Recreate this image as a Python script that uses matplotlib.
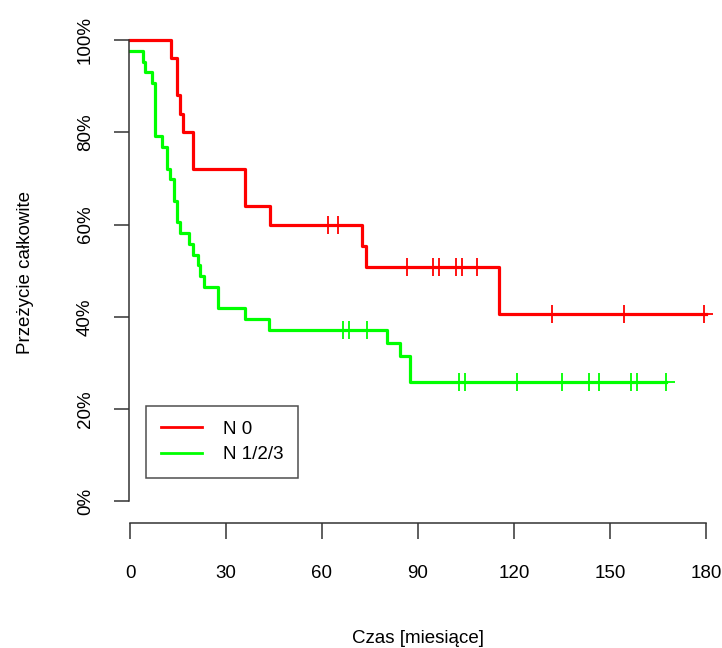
import matplotlib
matplotlib.use('Agg')
import matplotlib.pyplot as plt
from matplotlib.ticker import FuncFormatter

plt.rcParams['font.family'] = ['Liberation Sans', 'DejaVu Sans']

# krzywe Kaplana-Meiera
n0_time = [0, 12.7, 14.6, 15.6, 16.7, 19.8, 35.9, 43.75, 72.6, 73.6, 115.3, 180]
n0_surv = [1.0, 0.96, 0.88, 0.84, 0.80, 0.72, 0.64, 0.60, 0.554, 0.508, 0.406, 0.406]
n0_cens = [62, 65.1, 86.7, 94.6, 96.6, 101.8, 103.8, 108.5, 131.8, 154.5, 179.4]

n123_time = [0, 3.96, 4.7, 7.0, 7.9, 10.1, 11.5, 12.5, 13.75, 14.8, 15.6, 18.5,
             19.6, 21.1, 21.9, 23.2, 27.6, 35.9, 43.5, 80.2, 84.4, 87.5, 167.4]
n123_surv = [0.977, 0.953, 0.930, 0.907, 0.791, 0.767, 0.721, 0.698, 0.651, 0.605,
             0.581, 0.558, 0.535, 0.512, 0.488, 0.465, 0.419, 0.395, 0.372, 0.343,
             0.315, 0.258, 0.258]
n123_cens = [66.7, 68.5, 74, 102.8, 104.7, 120.8, 134.9, 143.5, 146.7, 156.5,
             158.5, 167.4]

x_ticks = [0, 30, 60, 90, 120, 150, 180]
y_ticks = [0, 0.2, 0.4, 0.6, 0.8, 1.0]


def surv_at(times, surv, t):
    s = surv[0]
    for ti, si in zip(times, surv):
        if ti <= t:
            s = si
    return s


fig = plt.figure(figsize=(7.22, 6.48), dpi=100)
ax = fig.add_axes([130 / 722, 125 / 648, 576 / 722, 501.5 / 648])

for times, surv, cens, col, lab in [(n0_time, n0_surv, n0_cens, '#ff0000', 'N 0'),
                                    (n123_time, n123_surv, n123_cens, '#00ff00', 'N 1/2/3')]:
    ax.step(times, surv, where='post', color=col, lw=2.3, clip_on=False, label=lab)
    ax.plot(cens, [surv_at(times, surv, c) for c in cens], ls='none', marker='+',
            ms=13, mew=1.3, color=col, clip_on=False)

ax.set_xlim(0, 180)
ax.set_ylim(-0.0466, 1.04)
ax.set_xticks(x_ticks)
ax.set_yticks(y_ticks)
ax.yaxis.set_major_formatter(FuncFormatter(lambda v, p: '%d%%' % round(v * 100)))

for s in ['top', 'right']:
    ax.spines[s].set_visible(False)
ax.spines['left'].set_bounds(0, 1)
ax.spines['bottom'].set_bounds(0, 180)
ax.spines['left'].set_position(('outward', 1))
for s in ['left', 'bottom']:
    ax.spines[s].set_linewidth(1.1)
    ax.spines[s].set_color('#333333')

ax.tick_params(axis='x', length=11.5, width=1.1, color='#333333', labelsize=13.5, pad=19)
ax.tick_params(axis='y', length=11, width=1.1, color='#333333', labelsize=13.5, pad=14)
for lbl in ax.get_yticklabels():
    lbl.set_rotation(90)
    lbl.set_va('center')

ax.set_xlabel('Czas [miesiące]', fontsize=13.5, labelpad=34)
ax.set_ylabel('Przeżycie całkowite', fontsize=13.5, labelpad=31)

leg = ax.legend(loc='lower left', bbox_to_anchor=(16 / 576, (523 - 478.3) / 501.5),
                frameon=True, fancybox=False, fontsize=13.5, handlelength=2.2,
                borderpad=0.8, labelspacing=0.45, handletextpad=1.1, borderaxespad=0)
leg.get_frame().set_edgecolor('#222222')
leg.get_frame().set_linewidth(1.1)
for h in leg.get_lines():
    h.set_linewidth(2)

fig.savefig('out.png', dpi=100)
